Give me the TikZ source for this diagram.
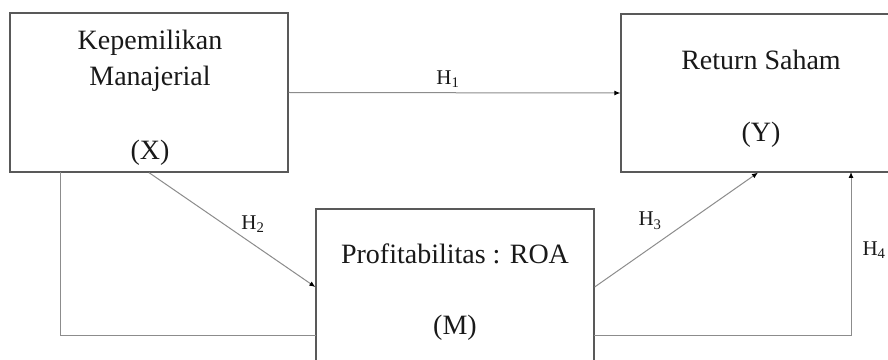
\documentclass[tikz,border=0pt]{standalone}
\usepackage{fontspec}
\setmainfont{Liberation Serif}
\usetikzlibrary{arrows.meta,calc}
\begin{document}
\begin{tikzpicture}[x=1pt,y=1pt,
  box/.style={draw=black!65,line width=1.3pt,rectangle,inner sep=0pt},
  txt/.style={font=\fontsize{28}{30}\selectfont,anchor=base,text=black!90,inner sep=0pt},
  lab/.style={font=\fontsize{21}{24}\selectfont,anchor=base,text=black!90,inner sep=0pt},
  conn/.style={draw=black!45,line width=1pt},
  arr/.style={conn,-{Latex[length=6pt,width=5pt,color=black]}}]
\useasboundingbox (0,0) rectangle (888,359);
\clip (0,0) rectangle (888,359);
\fill[white] (0,0) rectangle (888,359);
% boxes
\node[box,minimum width=278pt,minimum height=159pt] (X) at (149,266.5) {};
\node[box,minimum width=274pt,minimum height=158pt] (Y) at (758,266) {};
\node[box,minimum width=278pt,minimum height=156pt] (M) at (455,72) {};
% texts
\node[txt] (t1) at (150,309) {Kepemilikan};
\node[txt] (t2) at (150,273) {Manajerial};
\node[txt] (t3) at (150,199) {(X)};
\node[txt] (t4) at (761,289) {Return Saham};
\node[txt] (t5) at (761,217) {(Y)};
\node[txt] (t6) at (455,96) {Profitabilitas : ROA};
\node[txt] (t7) at (455,25) {(M)};
% coordinates
\coordinate (xl) at (60,187);
\coordinate (ml) at (316,24);
\coordinate (mr) at (594,24);
\coordinate (yr) at (851,187);
% connectors
\draw[arr] (X.east) -- (Y.west) node[lab,pos=0.48,yshift=8pt] (h1) {H\textsubscript{1}};
\draw[arr] (X.south) -- (M.west);
\draw[arr] (M.east) -- (Y.south);
\draw[conn] (xl) |- (ml);
\draw[arr] (mr) -| (yr);
% labels
\node[lab] (h2) at (253,130) {H\textsubscript{2}};
\node[lab] (h3) at (650,133) {H\textsubscript{3}};
\node[lab] (h4) at (874,104) {H\textsubscript{4}};
\end{tikzpicture}
\end{document}
